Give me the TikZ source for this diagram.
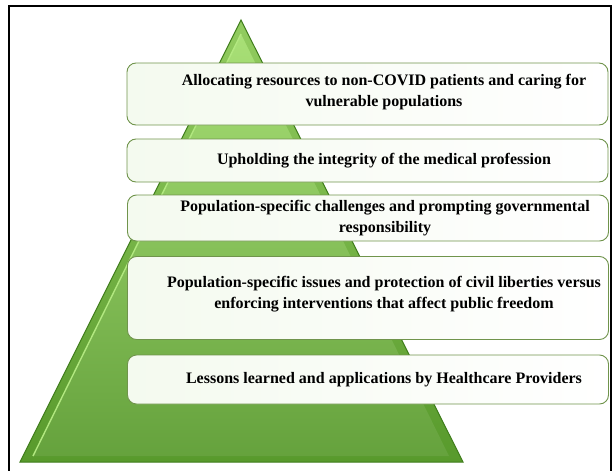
\documentclass[tikz,border=0pt]{standalone}
\usepackage{fontspec}
\setmainfont{Liberation Serif}
\definecolor{leafdark}{RGB}{62,124,26}
\definecolor{leafmid}{RGB}{88,154,44}
\definecolor{leaflight}{RGB}{146,204,96}
\definecolor{leafglow}{RGB}{178,232,128}
\definecolor{rimgreen}{RGB}{112,148,76}
\newcommand{\tierFont}{\bfseries\fontsize{16}{21}\selectfont}

\begin{document}
\begin{tikzpicture}[x=1pt, y=-1pt]
  \tikzset{tier box/.style={draw=rimgreen, line width=0.9pt, rounded corners=9pt,
      left color=white!90!leaflight, right color=white, minimum width=481pt},
    tier text/.style={font=\tierFont, align=center, text=black}}
  \useasboundingbox (0,0) rectangle (613,471);
  \draw[line width=2pt] (9,472) -- (9,6) -- (611,6) -- (611,472);

  % pyramid with a bevelled face
  \coordinate (apex) at (241,20);
  \coordinate (baseL) at (20,462);
  \coordinate (baseR) at (463,462);
  \shade[top color=leaflight, bottom color=leafmid] (apex) -- (baseR) -- (baseL) -- cycle;
  \shade[top color=leafglow!70!leaflight, bottom color=leafmid!92!white]
    (241,34) -- (449,456) -- (33,456) -- cycle;
  \draw[leafglow, line width=1.4pt] (241,34) -- (33,456);
  \draw[leafdark, line width=1pt] (apex) -- (baseR) -- (baseL) -- cycle;

  % tiers
  \node[tier box, minimum height=62pt] (tier1) at (367.5,94) {};
  \node[tier box, minimum height=43pt] (tier2) at (367.5,160.5) {};
  \node[tier box, minimum height=46pt] (tier3) at (368,218) {};
  \node[tier box, minimum height=83pt] (tier4) at (368,298) {};
  \node[tier box, minimum height=49pt] (tier5) at (368,379.5) {};

  \node[tier text] (label1) at (384,92.5)
    {Allocating resources to non-COVID patients and caring for\\vulnerable populations};
  \node[tier text] (label2) at (384,161)
    {Upholding the integrity of the medical profession};
  \node[tier text] (label3) at (385,218.5)
    {Population-specific challenges and prompting governmental\\responsibility};
  \node[tier text] (label4) at (384,294.5)
    {Population-specific issues and protection of civil liberties versus\\enforcing interventions that affect public freedom};
  \node[tier text] (label5) at (384,380)
    {Lessons learned and applications by Healthcare Providers};
\end{tikzpicture}
\end{document}
